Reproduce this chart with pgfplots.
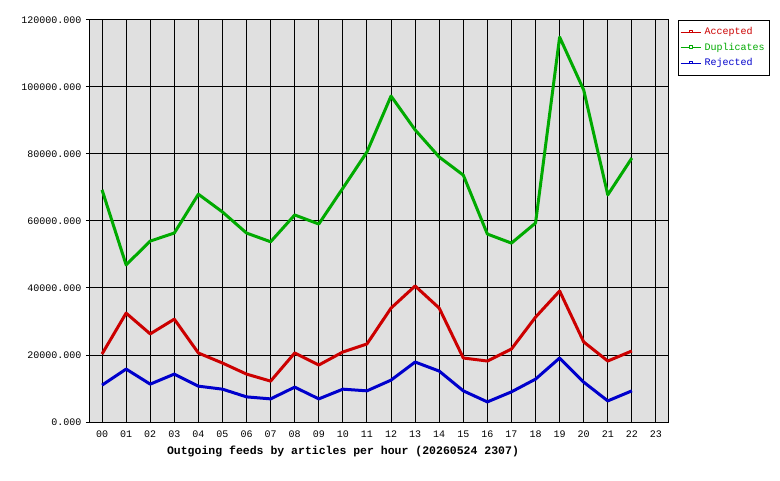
\documentclass[border=0pt]{standalone}
\usepackage{pgfplots}
\pgfplotsset{compat=1.18}
\usepackage{fontspec}
\setmainfont{Liberation Mono}
\definecolor{accred}{RGB}{204,0,0}
\definecolor{dupgreen}{RGB}{0,170,0}
\definecolor{rejblue}{RGB}{0,0,204}
\definecolor{bggray}{RGB}{224,224,224}
\begin{document}
\begin{tikzpicture}[x=1pt,y=1pt]
\path[use as bounding box] (0,0) rectangle (780,480);
\begin{axis}[
  at={(90pt,58pt)}, anchor=south west,
  scale only axis, width=578pt, height=402pt,
  xmin=-0.5, xmax=23.5, ymin=0, ymax=120000,
  xtick={0,1,...,23},
  xticklabels={00,01,02,03,04,05,06,07,08,09,10,11,12,13,14,15,16,17,18,19,20,21,22,23},
  ytick={0,20000,40000,60000,80000,100000,120000},
  ytick pos=left,
  scaled y ticks=false,
  /pgf/number format/fixed,
  /pgf/number format/fixed zerofill,
  /pgf/number format/precision=3,
  /pgf/number format/1000 sep={},
  /pgf/number format/assume math mode=true,
  grid=major,
  major grid style={black, line width=1pt},
  axis background/.style={fill=bggray},
  axis line style={black, line width=1pt},
  tick align=outside,
  major tick length=4pt,
  ytick style={black, line width=1pt},
  xtick style={draw=none},
  tick label style={font=\fontsize{10}{12}\selectfont},
  xticklabel style={yshift=-1pt},
  yticklabel style={xshift=-1pt},
  legend style={at={(1.0173,1)}, anchor=north west, draw=black, line width=1pt,
    font=\fontsize{10}{12}\selectfont, row sep=6.5pt, inner xsep=1.5pt, inner ysep=7.5pt,
    nodes={inner xsep=3.5pt, inner ysep=0pt, text height=7pt, text depth=2pt},
    legend cell align=left},
  legend image code/.code={
    \draw[line width=1pt] (0pt,0pt) -- (20pt,0pt);
    \draw[line width=0.8pt, fill=white] (8.5pt,0pt) rectangle (11.5pt,2.5pt);
  },
  every axis plot/.append style={line width=3pt, line join=round},
]
\addplot[accred] coordinates {
(0,20300) (1,32500) (2,26300) (3,30700) (4,20600) (5,17600) (6,14300) (7,12200)
(8,20600) (9,17000) (10,20900) (11,23300) (12,34000) (13,40600) (14,34000)
(15,19100) (16,18200) (17,21800) (18,31300) (19,39100) (20,23900) (21,18200) (22,21200)};
\addlegendentry{\textcolor{accred}{Accepted}}
\addplot[dupgreen] coordinates {
(0,69300) (1,46900) (2,54000) (3,56400) (4,68000) (5,62700) (6,56400) (7,53800)
(8,61800) (9,59100) (10,69800) (11,80600) (12,97300) (13,87200) (14,79100)
(15,73700) (16,56100) (17,53400) (18,59400) (19,114900) (20,99100) (21,67800) (22,78800)};
\addlegendentry{\textcolor{dupgreen}{Duplicates}}
\addplot[rejblue] coordinates {
(0,11000) (1,15800) (2,11300) (3,14300) (4,10700) (5,9800) (6,7500) (7,6900)
(8,10400) (9,6900) (10,9800) (11,9300) (12,12500) (13,17900) (14,15200)
(15,9300) (16,6000) (17,9000) (18,12800) (19,19100) (20,11900) (21,6300) (22,9300)};
\addlegendentry{\textcolor{rejblue}{Rejected}}
\end{axis}
\node[font=\bfseries\fontsize{11.5}{13}\selectfont] at (343,29) {Outgoing feeds by articles per hour (20260524 2307)};
\end{tikzpicture}
\end{document}
